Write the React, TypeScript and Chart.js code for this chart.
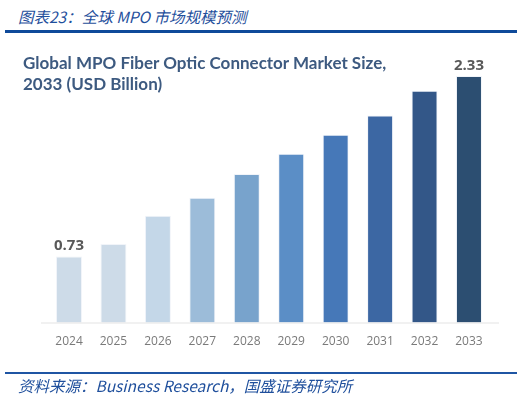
import React, { useEffect, useRef } from "react";
import { Chart, registerables } from "chart.js";

Chart.register(...registerables);

const years = ["2024", "2025", "2026", "2027", "2028", "2029", "2030", "2031", "2032", "2033"];
const marketSize = [0.73, 0.84, 1.09, 1.25, 1.46, 1.64, 1.81, 1.98, 2.2, 2.33];
const barColors = [
  "#cddbe8", "#cddbe8", "#c4d7e8", "#9cbcd9", "#78a3cc",
  "#5b8ec6", "#4678b8", "#3c67a3", "#335788", "#2c4e71",
];
const labelledYears = ["2024", "2033"];
const headerText = "图表23：全球 MPO 市场规模预测";
const chartTitle = ["Global MPO Fiber Optic Connector Market Size,", "2033 (USD Billion)"];
const sourceText = "资料来源：Business Research，国盛证券研究所";

const overlayPlugin = {
  id: "overlay",
  afterDatasetsDraw(chart: any) {
    const ctx = chart.ctx;
    const area = chart.chartArea;
    ctx.save();
    // baseline
    ctx.strokeStyle = "#ececec";
    ctx.lineWidth = 1.5;
    ctx.beginPath();
    ctx.moveTo(41, area.bottom + 0.5);
    ctx.lineTo(499, area.bottom + 0.5);
    ctx.stroke();
    // value labels
    const meta = chart.getDatasetMeta(0);
    ctx.font = "bold 15px 'Open Sans', 'Noto Sans', sans-serif";
    ctx.fillStyle = "#595959";
    ctx.textAlign = "center";
    ctx.textBaseline = "bottom";
    meta.data.forEach((bar: any, i: number) => {
      if (labelledYears.includes(years[i])) {
        ctx.fillText(marketSize[i].toFixed(2), bar.x, bar.y - 3);
      }
    });
    ctx.restore();
  },
};

export default function App() {
  const ref = useRef<HTMLCanvasElement>(null);
  useEffect(() => {
    if (!ref.current) return;
    const chart = new Chart(ref.current, {
      type: "bar",
      data: {
        labels: years,
        datasets: [
          {
            data: marketSize,
            backgroundColor: barColors,
            borderColor: "rgba(235,240,246,0.7)",
            borderWidth: 1,
            barPercentage: 0.585,
            categoryPercentage: 1,
          },
        ],
      },
      options: {
        responsive: false,
        animation: false,
        maintainAspectRatio: false,
        layout: { padding: { left: 46.8, right: 34.8, top: 60, bottom: 45 } },
        plugins: { legend: { display: false }, tooltip: { enabled: false }, title: { display: false } },
        scales: {
          x: {
            grid: { display: false },
            border: { display: false },
            ticks: {
              color: "#7a7a7a",
              font: { size: 12, family: "'Open Sans', 'Noto Sans', sans-serif" },
              padding: 4,
              maxRotation: 0,
            },
          },
          y: {
            display: false,
            min: 0.143,
            max: 2.472,
          },
        },
      },
      plugins: [overlayPlugin],
    });
    return () => chart.destroy();
  }, []);

  return (
    <div style={{ position: "fixed", left: 0, top: 0, width: 526, height: 398, background: "#fff", overflow: "hidden" }}>
      <div
        style={{
          position: "absolute", left: 18, top: 6, fontStyle: "italic", fontSize: 15.5, color: "#1f4f9c",
          fontFamily: "'Noto Sans CJK SC', 'Noto Sans', sans-serif", lineHeight: "20px", whiteSpace: "nowrap",
        }}
      >
        {headerText}
      </div>
      <div style={{ position: "absolute", left: 5, top: 30, width: 512, height: 2.5, background: "#0f4a9a" }} />
      <canvas ref={ref} width={526} height={398} style={{ position: "absolute", left: 0, top: 0 }} />
      <div
        style={{
          position: "absolute", left: 23, top: 53, fontWeight: 700, fontSize: 17, color: "#3d5a80",
          fontFamily: "Lato, 'Open Sans', sans-serif", lineHeight: "20.5px", whiteSpace: "nowrap",
        }}
      >
        {chartTitle[0]}
        <br />
        {chartTitle[1]}
      </div>
      <div style={{ position: "absolute", left: 5, top: 372, width: 512, height: 1.5, background: "#1f55a3" }} />
      <div
        style={{
          position: "absolute", left: 18, top: 375, fontStyle: "italic", fontSize: 15.5, color: "#1f4f9c",
          fontFamily: "'Noto Sans CJK SC', 'Noto Sans', sans-serif", lineHeight: "20px", whiteSpace: "nowrap",
        }}
      >
        {sourceText}
      </div>
    </div>
  );
}
